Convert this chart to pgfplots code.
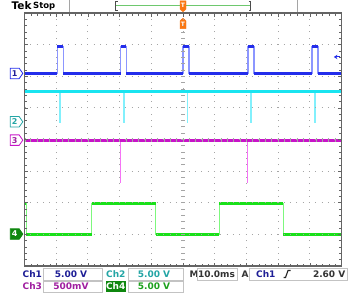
\documentclass[border=0pt]{standalone}
\usepackage{pgfplots}
\pgfplotsset{compat=1.18}
\usepackage{pgfplotstable}
\usepackage{fontspec}
\setmainfont{DejaVu Sans}
\usetikzlibrary{shapes.symbols,arrows.meta}

\definecolor{c1}{RGB}{35,45,235}
\definecolor{c1l}{RGB}{140,150,255}
\definecolor{c2}{RGB}{25,228,240}
\definecolor{c2l}{RGB}{130,240,252}
\definecolor{c3}{RGB}{200,20,200}
\definecolor{c3l}{RGB}{245,115,245}
\definecolor{c4}{RGB}{25,225,25}
\definecolor{c4l}{RGB}{125,248,125}
\definecolor{t1}{RGB}{30,30,150}
\definecolor{t2}{RGB}{35,165,165}
\definecolor{t3}{RGB}{160,30,160}
\definecolor{t4}{RGB}{30,160,30}
\definecolor{g4}{RGB}{15,135,15}
\definecolor{gridc}{RGB}{165,165,165}
\definecolor{bord}{RGB}{100,100,100}
\definecolor{boxc}{RGB}{195,195,195}
\definecolor{orng}{RGB}{250,120,20}
\definecolor{barg}{RGB}{110,200,110}

% Ch1 (divisions vs ms)
\pgfplotstableread{
t v
-50 2.09
-39.7 2.09
-39.7 2.94
-37.8 2.94
-37.8 2.09
-19.7 2.09
-19.7 2.94
-17.9 2.94
-17.9 2.09
0 2.09
0 2.94
1.9 2.94
1.9 2.09
20.5 2.09
20.5 2.94
22.4 2.94
22.4 2.09
40.7 2.09
40.7 2.94
42.6 2.94
42.6 2.09
50 2.09
}\chone
\pgfplotstableread{
t v
-50 2.09
-39.7 2.09
nan nan
-39.7 2.94
-37.8 2.94
nan nan
-37.8 2.09
-19.7 2.09
nan nan
-19.7 2.94
-17.9 2.94
nan nan
-17.9 2.09
0 2.09
nan nan
0 2.94
1.9 2.94
nan nan
1.9 2.09
20.5 2.09
nan nan
20.5 2.94
22.4 2.94
nan nan
22.4 2.09
40.7 2.09
nan nan
40.7 2.94
42.6 2.94
nan nan
42.6 2.09
50 2.09
}\chonelev
% Ch2
\pgfplotstableread{
t v
-50 1.51
50 1.51
}\chtwo
\pgfplotstableread{
t v
-38.8 1.51
-38.8 0.53
nan nan
-18.6 1.51
-18.6 0.53
nan nan
1.4 1.51
1.4 0.53
nan nan
21.5 1.51
21.5 0.53
nan nan
41.6 1.51
41.6 0.53
}\chtwospk
% Ch3
\pgfplotstableread{
t v
-50 -0.02
50 -0.02
}\chthree
\pgfplotstableread{
t v
-19.7 -0.02
-19.7 -1.38
nan nan
20.4 -0.02
20.4 -1.38
}\chthreespk
% Ch4
\pgfplotstableread{
t v
-50 -2.02
-49.4 -2.02
-49.4 -3.0
-28.8 -3.0
-28.8 -2.02
-8.6 -2.02
-8.6 -3.0
11.5 -3.0
11.5 -2.02
31.7 -2.02
31.7 -3.0
50 -3.0
}\chfour
\pgfplotstableread{
t v
-50 -2.02
-49.4 -2.02
nan nan
-49.4 -3.0
-28.8 -3.0
nan nan
-28.8 -2.02
-8.6 -2.02
nan nan
-8.6 -3.0
11.5 -3.0
nan nan
11.5 -2.02
31.7 -2.02
nan nan
31.7 -3.0
50 -3.0
}\chfourlev

\begin{document}
\begin{tikzpicture}[x=1pt,y=1pt,font=\fontsize{9}{10}\selectfont\bfseries]
\fill[white] (0,0) rectangle (350,293);
\path[use as bounding box] (0,0) rectangle (350,293);

% ---- top status bar ----
\node[anchor=west,inner sep=0pt,font=\fontsize{10.5}{10}\selectfont\bfseries] at (11.5,287) {Tek};
\node[anchor=west,inner sep=0pt,font=\fontsize{8.5}{10}\selectfont\bfseries] at (33,287) {Stop};
\draw[gridc,line width=0.8pt] (69.5,281) -- (69.5,293);
\draw[gridc,line width=0.8pt] (297,281) -- (297,293);
\draw[barg,line width=1.3pt] (116,287.5) -- (250,287.5);
\draw[black!70,line width=0.7pt] (117.5,291.5) -- (115.5,291.5) -- (115.5,283) -- (117.5,283);
\draw[black!70,line width=0.7pt] (248.5,291.5) -- (250.5,291.5) -- (250.5,283) -- (248.5,283);

% ---- bottom status rows ----
\node[anchor=west,inner sep=0pt,text=t1] at (22.5,19) {Ch1};
\draw[boxc,fill=white,line width=0.6pt] (43,13) rectangle (102,24.5);
\node[inner sep=0pt,text=t1] at (71,19) {5.00 V};
\node[anchor=west,inner sep=0pt,text=t2] at (106,19) {Ch2};
\draw[boxc,fill=white,line width=0.6pt] (128,13) rectangle (183,24.5);
\node[inner sep=0pt,text=t2] at (154,19) {5.00 V};
\node[anchor=west,inner sep=0pt,text=black!80] at (189.5,19) {M};
\draw[boxc,fill=white,line width=0.6pt] (197,13) rectangle (237,24.5);
\node[inner sep=0pt,text=black!80] at (216.5,19) {10.0ms};
\node[anchor=west,inner sep=0pt,text=black!80] at (241.5,19) {A};
\draw[boxc,fill=white,line width=0.6pt] (249,13) rectangle (347.5,24.5);
\node[anchor=west,inner sep=0pt,text=t1] at (256,19) {Ch1};
\draw[black!85,line width=1.1pt] (283.5,15.5) -- (285.5,15.5) -- (288,22.5) -- (290.5,22.5);
\node[anchor=east,inner sep=0pt,text=black!80] at (345.5,19) {2.60 V};

\node[anchor=west,inner sep=0pt,text=t3] at (22.5,7) {Ch3};
\draw[boxc,fill=white,line width=0.6pt] (43,1) rectangle (102,12);
\node[inner sep=0pt,text=t3] at (71,7) {500mV};
\fill[g4] (105.5,1.5) rectangle (126,12.5);
\node[inner sep=0pt,text=white] at (115.7,7) {Ch4};
\draw[boxc,fill=white,line width=0.6pt] (128,1) rectangle (183,12);
\node[inner sep=0pt,text=t4] at (154,7) {5.00 V};

\begin{axis}[
  at={(24.5pt,27pt)}, anchor=south west,
  width=317pt, height=253pt, scale only axis,
  xmin=-50, xmax=50, ymin=-4, ymax=4,
  xtick={-50,-40,...,50}, ytick={-4,-3,...,4},
  xticklabels={}, yticklabels={},
  minor x tick num=4, minor y tick num=4,
  tick align=inside,
  major tick length=3.5pt, minor tick length=2.5pt,
  tick style={bord,line width=0.6pt},
  grid=major,
  major grid style={gridc,line width=0.9pt,dash pattern=on 0.9pt off 5.43pt,dash phase=0.45pt},
  axis line style={bord,line width=1.3pt},
  axis on top,
  clip=false,
]
% Ch2
\addplot[c2l,line width=1.4pt,no marks,unbounded coords=jump] table {\chtwospk};
\addplot[c2,line width=3.2pt,no marks] table {\chtwo};
% Ch3
\addplot[c3l,line width=1.6pt,no marks,unbounded coords=jump] table {\chthreespk};
\addplot[c3,line width=2.8pt,no marks] table {\chthree};
% Ch4
\addplot[c4l,line width=1.3pt,no marks] table {\chfour};
\addplot[c4,line width=3.4pt,no marks,unbounded coords=jump] table {\chfourlev};
% Ch1
\addplot[c1l,line width=1.3pt,no marks] table {\chone};
\addplot[c1,line width=2.8pt,no marks,unbounded coords=jump] table {\chonelev};

% centre cross ticks
\draw[gridc,line width=4pt,dash pattern=on 0.8pt off 5.54pt,dash phase=0.4pt] (axis cs:-50,0) -- (axis cs:50,0);
\draw[gridc,line width=4pt,dash pattern=on 0.8pt off 5.525pt,dash phase=0.4pt] (axis cs:0,-4) -- (axis cs:0,4);

% trigger level arrow
\draw[c1,line width=1pt,-{Stealth[length=3.5pt,width=4.5pt]}] (axis cs:49.6,2.61) -- (axis cs:47.6,2.61);

% channel markers
\node[signal,signal to=east,signal pointer angle=110,draw=c1,line width=0.8pt,fill=white,text=t1,minimum width=12.5pt,minimum height=10.5pt,inner sep=0pt,font=\fontsize{8}{8}\selectfont\bfseries,anchor=east,xshift=-1.2pt] at (axis cs:-50,2.09) {1};
\node[signal,signal to=east,signal pointer angle=110,draw=t2,line width=0.8pt,fill=white,text=t2,minimum width=12.5pt,minimum height=10.5pt,inner sep=0pt,font=\fontsize{8}{8}\selectfont\bfseries,anchor=east,xshift=-1.2pt] at (axis cs:-50,0.56) {2};
\node[signal,signal to=east,signal pointer angle=110,draw=c3,line width=0.8pt,fill=white,text=t3,minimum width=12.5pt,minimum height=10.5pt,inner sep=0pt,font=\fontsize{8}{8}\selectfont\bfseries,anchor=east,xshift=-1.2pt] at (axis cs:-50,-0.02) {3};
\node[signal,signal to=east,signal pointer angle=110,draw=g4,line width=0.8pt,fill=g4,text=white,minimum width=12.5pt,minimum height=10.5pt,inner sep=0pt,font=\fontsize{8}{8}\selectfont\bfseries,anchor=east,xshift=-1.2pt] at (axis cs:-50,-2.99) {4};

% horizontal position (trigger) markers
\node[signal,signal to=south,signal pointer angle=100,fill=orng,draw=orng,text=white,minimum width=6pt,minimum height=10pt,inner sep=0pt,font=\fontsize{6}{6}\selectfont\bfseries,anchor=south,yshift=1pt] at (axis cs:0,4) {T};
\node[signal,signal to=north,signal pointer angle=100,fill=orng,draw=orng,text=white,minimum width=6pt,minimum height=9.5pt,inner sep=0pt,font=\fontsize{6}{6}\selectfont\bfseries,anchor=north,yshift=-5pt] at (axis cs:0,4) {T};
\end{axis}
\end{tikzpicture}
\end{document}
